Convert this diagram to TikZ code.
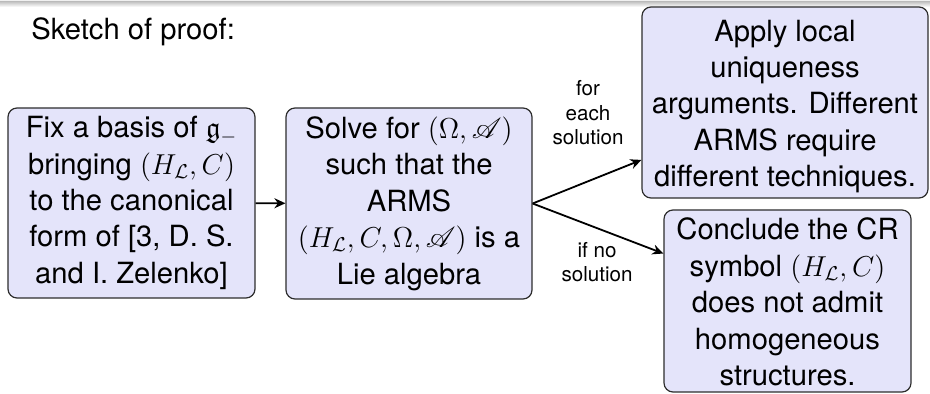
\documentclass[tikz,border=0pt]{standalone}
\usepackage{amssymb}
\usepackage{mathrsfs}
\usepackage{fontspec}
\setmainfont{TeX Gyre Heros}
\usetikzlibrary{arrows.meta}

\definecolor{boxfill}{RGB}{228,228,250}
\definecolor{boxline}{RGB}{45,45,45}

\tikzset{
  stepbox/.style={draw=boxline, line width=0.6pt, fill=boxfill,
    rounded corners=4.5pt, align=center, inner sep=0pt,
    font=\fontsize{14.6}{18.2}\selectfont},
  flow/.style={-{Stealth[length=5.5pt,width=5pt]}, line width=0.9pt},
  tag/.style={align=center, inner sep=0pt,
    font=\fontsize{10.3}{12.3}\selectfont},
  heading/.style={inner sep=0pt, anchor=base west,
    font=\fontsize{14.6}{18.5}\selectfont}
}

\begin{document}
\begin{tikzpicture}[x=0.5pt,y=-0.5pt]
\useasboundingbox (0,0) rectangle (930,394);

% shadow of the title bar above
\fill[gray!12] (0,0) rectangle (930,2);
\shade[top color=gray!45, bottom color=white] (0,2) rectangle (930,7);

\node[heading] (title) at (31,40) {Sketch of proof:};

\node[stepbox, minimum width=123.5pt, minimum height=95pt] (fix) at (131.5,203)
  {Fix a basis of $\mathfrak{g}_-$\\
   bringing $(H_{\mathcal{L}},C)$\\
   to the canonical\\
   form of [3, D. S.\\
   and I. Zelenko]};

\node[stepbox, minimum width=123pt, minimum height=95.5pt] (solve) at (409,203.5)
  {Solve for $(\Omega,\mathscr{A})$\\
   such that the\\
   ARMS\\
   $(H_{\mathcal{L}},C,\Omega,\mathscr{A})$ is a\\
   Lie algebra};

\node[stepbox, minimum width=143pt, minimum height=95.5pt] (apply) at (785,102.5)
  {\rule{0pt}{14.6pt}Apply local\\
   uniqueness\\
   arguments. Different\\
   ARMS require\\
   different techniques.};

\node[stepbox, minimum width=123.5pt, minimum height=91pt] (conclude) at (787.5,301)
  {\rule{0pt}{12pt}Conclude the CR\\
   symbol $(H_{\mathcal{L}},C)$\\
   does not admit\\
   homogeneous\\
   structures.};

\draw[flow] (fix) -- (solve);
\draw[flow] (solve.east) -- (apply);
\draw[flow] (solve.east) -- (conclude);

\node[tag] (forEach) at (588,113) {for\\each\\solution};
\node[tag] (ifNo) at (597,262) {if no\\solution};
\end{tikzpicture}
\end{document}
